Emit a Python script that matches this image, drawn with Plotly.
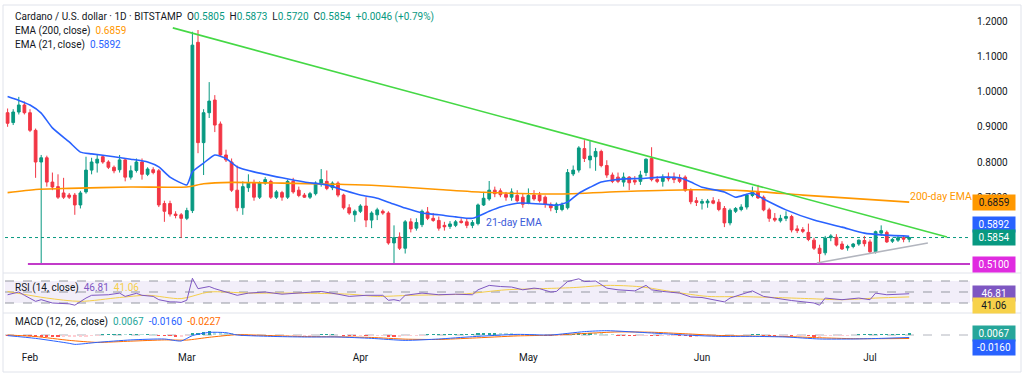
import pandas as pd
import plotly.graph_objects as go

# ---------------- DATA ----------------
start_date, end_date = "2025-01-28", "2025-07-08"

opens = [
    # Jan 28-31
    0.940, 0.912, 0.942, 0.962,
    # Feb
    0.940, 0.890, 0.800, 0.812, 0.743, 0.730, 0.712, 0.706, 0.706, 0.678,
    0.715, 0.777, 0.797, 0.815, 0.800, 0.785, 0.778, 0.806, 0.757, 0.776,
    0.800, 0.765, 0.778, 0.775, 0.682, 0.682, 0.652, 0.650,
    # Mar
    0.640, 0.662, 1.140, 0.855, 0.940, 0.976, 0.908, 0.820, 0.800, 0.720,
    0.670, 0.727, 0.740, 0.700, 0.740, 0.745, 0.700, 0.713, 0.700, 0.745,
    0.720, 0.706, 0.700, 0.710, 0.738, 0.745, 0.727, 0.740, 0.706, 0.670, 0.650,
    # Apr
    0.660, 0.675, 0.635, 0.650, 0.660, 0.655, 0.570, 0.587, 0.555, 0.630,
    0.612, 0.622, 0.658, 0.640, 0.634, 0.620, 0.617, 0.620, 0.632, 0.630,
    0.620, 0.625, 0.678, 0.695, 0.720, 0.718, 0.708, 0.700, 0.705, 0.700,
    # May
    0.683, 0.706, 0.706, 0.700, 0.678, 0.665, 0.665, 0.670, 0.766, 0.777,
    0.838, 0.806, 0.815, 0.830, 0.790, 0.763, 0.757, 0.743, 0.757, 0.748,
    0.745, 0.770, 0.810, 0.750, 0.745, 0.757, 0.757, 0.755, 0.757, 0.720, 0.690,
    # Jun
    0.683, 0.684, 0.690, 0.686, 0.668, 0.627, 0.660, 0.665, 0.672, 0.705,
    0.715, 0.700, 0.664, 0.640, 0.633, 0.640, 0.645, 0.610, 0.608, 0.600,
    0.578, 0.555, 0.542, 0.585, 0.586, 0.567, 0.556, 0.560, 0.567, 0.577,
    # Jul
    0.573, 0.545, 0.598, 0.600, 0.575, 0.578, 0.585, 0.5805,
]
highs = [
    0.952, 0.950, 0.985, 0.972,
    0.950, 0.895, 0.820, 0.818, 0.770, 0.765, 0.755, 0.712, 0.712, 0.718,
    0.815, 0.812, 0.820, 0.820, 0.805, 0.790, 0.820, 0.810, 0.790, 0.810,
    0.810, 0.785, 0.785, 0.780, 0.690, 0.690, 0.660, 0.655,
    0.670, 1.170, 1.175, 0.950, 1.027, 0.990, 0.915, 0.835, 0.810, 0.790,
    0.745, 0.765, 0.750, 0.745, 0.757, 0.750, 0.720, 0.718, 0.750, 0.755,
    0.730, 0.712, 0.715, 0.745, 0.780, 0.776, 0.745, 0.745, 0.710, 0.680, 0.665,
    0.680, 0.700, 0.660, 0.670, 0.665, 0.660, 0.620, 0.600, 0.635, 0.640,
    0.640, 0.665, 0.672, 0.655, 0.645, 0.630, 0.632, 0.635, 0.640, 0.640,
    0.635, 0.682, 0.715, 0.746, 0.730, 0.725, 0.715, 0.725, 0.720, 0.710,
    0.725, 0.720, 0.715, 0.705, 0.685, 0.685, 0.685, 0.780, 0.790, 0.845,
    0.862, 0.862, 0.840, 0.835, 0.805, 0.770, 0.770, 0.770, 0.760, 0.760,
    0.775, 0.810, 0.842, 0.760, 0.765, 0.770, 0.770, 0.765, 0.762, 0.725, 0.700,
    0.695, 0.695, 0.700, 0.695, 0.675, 0.668, 0.672, 0.680, 0.710, 0.730,
    0.735, 0.705, 0.670, 0.655, 0.650, 0.660, 0.650, 0.620, 0.615, 0.625,
    0.585, 0.565, 0.590, 0.595, 0.595, 0.575, 0.565, 0.570, 0.580, 0.590,
    0.580, 0.605, 0.620, 0.605, 0.585, 0.590, 0.590, 0.5873,
]
lows = [
    0.900, 0.905, 0.935, 0.935,
    0.885, 0.755, 0.513, 0.730, 0.720, 0.695, 0.695, 0.695, 0.650, 0.668,
    0.710, 0.765, 0.770, 0.795, 0.780, 0.768, 0.770, 0.745, 0.750, 0.770,
    0.750, 0.760, 0.765, 0.672, 0.630, 0.645, 0.640, 0.584,
    0.635, 0.655, 0.825, 0.763, 0.925, 0.885, 0.815, 0.800, 0.715, 0.660,
    0.650, 0.715, 0.690, 0.695, 0.735, 0.695, 0.695, 0.690, 0.695, 0.710,
    0.700, 0.698, 0.695, 0.705, 0.730, 0.720, 0.720, 0.700, 0.665, 0.650, 0.630,
    0.655, 0.615, 0.612, 0.635, 0.650, 0.565, 0.513, 0.550, 0.540, 0.600,
    0.605, 0.615, 0.635, 0.630, 0.605, 0.605, 0.610, 0.615, 0.625, 0.612,
    0.612, 0.620, 0.675, 0.690, 0.700, 0.700, 0.690, 0.690, 0.685, 0.670,
    0.680, 0.690, 0.685, 0.670, 0.660, 0.655, 0.660, 0.665, 0.760, 0.770,
    0.800, 0.782, 0.775, 0.785, 0.755, 0.740, 0.740, 0.730, 0.720, 0.735,
    0.735, 0.760, 0.745, 0.740, 0.730, 0.745, 0.740, 0.740, 0.715, 0.680, 0.675,
    0.665, 0.670, 0.680, 0.660, 0.615, 0.620, 0.655, 0.660, 0.665, 0.700,
    0.695, 0.660, 0.630, 0.630, 0.628, 0.632, 0.600, 0.598, 0.598, 0.575,
    0.550, 0.513, 0.535, 0.575, 0.560, 0.550, 0.548, 0.555, 0.562, 0.560,
    0.540, 0.540, 0.590, 0.570, 0.570, 0.573, 0.572, 0.5720,
]
closes = [
    0.910, 0.942, 0.962, 0.940,
    0.890, 0.800, 0.812, 0.743, 0.729, 0.700, 0.700, 0.700, 0.678, 0.712,
    0.777, 0.800, 0.808, 0.800, 0.785, 0.775, 0.806, 0.757, 0.775, 0.800,
    0.765, 0.780, 0.770, 0.678, 0.660, 0.652, 0.648, 0.640,
    0.662, 1.132, 0.855, 0.940, 0.973, 0.905, 0.820, 0.806, 0.720, 0.670,
    0.730, 0.740, 0.700, 0.740, 0.750, 0.700, 0.715, 0.700, 0.745, 0.715,
    0.705, 0.700, 0.710, 0.740, 0.750, 0.725, 0.740, 0.706, 0.670, 0.655, 0.660,
    0.675, 0.635, 0.655, 0.664, 0.655, 0.570, 0.585, 0.555, 0.630, 0.610,
    0.628, 0.660, 0.640, 0.634, 0.612, 0.616, 0.624, 0.630, 0.628, 0.620,
    0.628, 0.678, 0.697, 0.720, 0.710, 0.707, 0.700, 0.715, 0.690, 0.680,
    0.705, 0.695, 0.690, 0.680, 0.670, 0.680, 0.678, 0.770, 0.777, 0.840,
    0.810, 0.817, 0.830, 0.790, 0.763, 0.745, 0.745, 0.757, 0.741, 0.743,
    0.763, 0.808, 0.750, 0.745, 0.757, 0.752, 0.750, 0.745, 0.720, 0.687, 0.685,
    0.688, 0.689, 0.683, 0.665, 0.627, 0.663, 0.668, 0.672, 0.706, 0.715,
    0.698, 0.664, 0.640, 0.635, 0.640, 0.645, 0.607, 0.605, 0.603, 0.580,
    0.555, 0.540, 0.584, 0.590, 0.564, 0.553, 0.560, 0.567, 0.578, 0.568,
    0.545, 0.602, 0.605, 0.573, 0.580, 0.585, 0.5808, 0.5854,
]

ema21_dates = ["2025-01-28", "2025-01-30", "2025-02-01", "2025-02-03", "2025-02-05", "2025-02-08",
               "2025-02-10", "2025-02-12", "2025-02-16", "2025-02-19", "2025-02-22", "2025-02-24",
               "2025-02-26", "2025-03-01", "2025-03-02", "2025-03-04", "2025-03-06", "2025-03-08",
               "2025-03-10", "2025-03-13", "2025-03-18", "2025-03-22", "2025-03-26", "2025-03-29",
               "2025-04-01", "2025-04-04", "2025-04-06", "2025-04-09", "2025-04-12", "2025-04-15",
               "2025-04-18", "2025-04-21", "2025-04-24", "2025-04-26", "2025-04-29", "2025-05-01",
               "2025-05-04", "2025-05-06", "2025-05-08", "2025-05-10", "2025-05-12", "2025-05-14",
               "2025-05-18", "2025-05-21", "2025-05-25", "2025-05-28", "2025-05-30", "2025-06-01",
               "2025-06-05", "2025-06-07", "2025-06-10", "2025-06-12", "2025-06-16", "2025-06-21",
               "2025-06-26", "2025-06-30", "2025-07-03", "2025-07-08"]
ema21_vals = [0.986, 0.975, 0.962, 0.939, 0.897, 0.857,
              0.828, 0.823, 0.815, 0.808, 0.800, 0.786,
              0.757, 0.735, 0.772, 0.797, 0.820, 0.810,
              0.786, 0.772, 0.755, 0.743, 0.735, 0.720,
              0.706, 0.697, 0.686, 0.669, 0.655, 0.650,
              0.644, 0.640, 0.660, 0.672, 0.683, 0.683,
              0.680, 0.677, 0.686, 0.711, 0.728, 0.743,
              0.752, 0.753, 0.757, 0.755, 0.743, 0.728,
              0.715, 0.700, 0.712, 0.695, 0.664, 0.635,
              0.615, 0.598, 0.593, 0.5892]

ema200_dates = ["2025-01-28", "2025-02-02", "2025-02-08", "2025-02-19", "2025-03-01", "2025-03-04",
                "2025-03-09", "2025-03-18", "2025-03-27", "2025-04-03", "2025-04-15", "2025-04-23",
                "2025-05-06", "2025-05-18", "2025-05-30", "2025-06-09", "2025-06-19", "2025-07-08"]
ema200_vals = [0.713, 0.722, 0.725, 0.729, 0.729, 0.738,
               0.742, 0.740, 0.737, 0.734, 0.722, 0.714,
               0.709, 0.716, 0.721, 0.718, 0.706, 0.6859]

rsi_dates = ["2025-01-28", "2025-01-30", "2025-01-31",
             "2025-02-02", "2025-02-03", "2025-02-05", "2025-02-08", "2025-02-09", "2025-02-11",
             "2025-02-12", "2025-02-15", "2025-02-17", "2025-02-18", "2025-02-20", "2025-02-21",
             "2025-02-23", "2025-02-24", "2025-02-26", "2025-02-27", "2025-02-28",
             "2025-03-01", "2025-03-02", "2025-03-03", "2025-03-04", "2025-03-05", "2025-03-06",
             "2025-03-08", "2025-03-10", "2025-03-12", "2025-03-15", "2025-03-18", "2025-03-21",
             "2025-03-25", "2025-03-28", "2025-03-30",
             "2025-04-02", "2025-04-05", "2025-04-06", "2025-04-07", "2025-04-08", "2025-04-09",
             "2025-04-12", "2025-04-15", "2025-04-18", "2025-04-21", "2025-04-22", "2025-04-24",
             "2025-04-26", "2025-04-28", "2025-04-30",
             "2025-05-02", "2025-05-03", "2025-05-05", "2025-05-06", "2025-05-08", "2025-05-10",
             "2025-05-11", "2025-05-13", "2025-05-15", "2025-05-17", "2025-05-20", "2025-05-22",
             "2025-05-23", "2025-05-25", "2025-05-28", "2025-05-30",
             "2025-06-01", "2025-06-05", "2025-06-06", "2025-06-10", "2025-06-12", "2025-06-14",
             "2025-06-17", "2025-06-21", "2025-06-22", "2025-06-23", "2025-06-26", "2025-06-29",
             "2025-07-01", "2025-07-02", "2025-07-04", "2025-07-08"]
rsi_vals = [45, 50, 44,
            33, 36, 30, 28.5, 26, 39, 44, 45, 48, 42, 47.6, 44, 42, 36, 32, 32, 31,
            35, 75, 56, 58, 60, 56, 50, 44, 48, 50, 46, 48, 51, 46, 42,
            44, 44, 35, 36, 34, 44, 48, 45, 46, 45, 54, 62, 60, 59, 54,
            57, 56, 50, 51, 69, 74, 69, 70, 57, 54, 52, 62, 54, 51, 48, 41,
            40, 32, 39, 52, 42, 39, 34.5, 30, 26, 39, 36, 39,
            36, 48, 45, 46.81]

rsima_dates = ["2025-01-28", "2025-02-04", "2025-02-10", "2025-02-17", "2025-02-22", "2025-02-28",
               "2025-03-05", "2025-03-12", "2025-03-21", "2025-03-30", "2025-04-04", "2025-04-10",
               "2025-04-19", "2025-04-27", "2025-05-03", "2025-05-09", "2025-05-15", "2025-05-21",
               "2025-05-27", "2025-06-02", "2025-06-08", "2025-06-14", "2025-06-20", "2025-06-26",
               "2025-07-02", "2025-07-08"]
rsima_vals = [51, 39, 33, 40, 44, 38,
              50, 48, 48, 46, 42, 44,
              46, 54, 56, 58, 62, 59.5,
              50, 42, 41.6, 40, 38, 36,
              39, 41.06]

macd_dates = ["2025-01-28", "2025-02-02", "2025-02-08", "2025-02-09", "2025-02-13", "2025-02-19",
              "2025-02-25", "2025-02-28", "2025-03-02", "2025-03-05", "2025-03-08", "2025-03-10",
              "2025-03-16", "2025-03-22", "2025-03-28", "2025-04-03", "2025-04-09", "2025-04-15",
              "2025-04-21", "2025-04-29", "2025-05-05", "2025-05-11", "2025-05-15", "2025-05-23",
              "2025-05-29", "2025-06-04", "2025-06-10", "2025-06-16", "2025-06-22", "2025-06-28",
              "2025-07-03", "2025-07-08"]
macd_vals = [-0.004, -0.022, -0.054, -0.061, -0.048, -0.032,
             -0.026, -0.039, -0.004, 0.017, 0.015, 0.000,
             -0.009, -0.013, -0.013, -0.022, -0.035, -0.026,
             -0.011, 0.004, 0.000, 0.022, 0.028, 0.013,
             0.000, -0.009, -0.009, -0.013, -0.026, -0.026,
             -0.022, -0.0160]

signal_dates = ["2025-01-28", "2025-02-02", "2025-02-08", "2025-02-13", "2025-02-19", "2025-02-25",
                "2025-03-01", "2025-03-05", "2025-03-10", "2025-03-16", "2025-03-22", "2025-03-28",
                "2025-04-03", "2025-04-09", "2025-04-15", "2025-04-21", "2025-04-29", "2025-05-05",
                "2025-05-11", "2025-05-17", "2025-05-23", "2025-05-29", "2025-06-04", "2025-06-10",
                "2025-06-16", "2025-06-22", "2025-06-28", "2025-07-03", "2025-07-08"]
signal_vals = [0.000, -0.010, -0.035, -0.048, -0.040, -0.032,
               -0.033, -0.015, 0.002, -0.004, -0.010, -0.012,
               -0.016, -0.027, -0.029, -0.020, -0.006, -0.001,
               0.010, 0.020, 0.018, 0.008, -0.003, -0.007,
               -0.010, -0.018, -0.024, -0.024, -0.0227]

# MACD histogram, daily, in thousandths
hist_milli = [
    -2, -2, -1, -2,
    -4, -8, -10, -13, -15, -16, -16, -15, -14, -11,
    -7, -4, -1, 1, 2, 3, 4, 3, 3, 4,
    3, 3, 2, -1, -4, -6, -7, -7,
    -5, 12, 16, 22, 24, 22, 18, 14, 8, 2,
    -1, -3, -4, -4, -4, -5, -4, -4, -3, -2,
    -2, -2, -1, 0, 1, 1, 1, 0, -2, -3, -4,
    -4, -5, -5, -5, -5, -7, -8, -8, -6, -5,
    -3, -1, 1, 1, 2, 2, 3, 3, 3, 4,
    5, 7, 9, 10, 10, 9, 8, 7, 5, 3,
    2, 1, 0, -1, -2, -2, -1, 3, 6, 9,
    10, 10, 9, 7, 4, 1, -1, -2, -3, -4,
    -4, -2, -3, -4, -4, -4, -4, -5, -6, -7, -7,
    -6, -5, -4, -4, -5, -4, -3, -2, 0, 1,
    1, -1, -3, -4, -4, -4, -5, -5, -5, -6,
    -7, -7, -5, -3, -3, -2, -1, 0, 1, 1,
    1, 3, 5, 5, 6, 6, 6, 6.7,
]

# Drawn trendlines / levels (price chart drawings)
resistance_dates = ["2025-02-26 12:00", "2025-07-14 18:00"]
resistance_prices = [1.181, 0.587]
support_dates = ["2025-06-21 12:00", "2025-07-11 08:00"]
support_prices = [0.513, 0.570]
support_level = 0.5100
support_level_start = "2025-01-31 15:00"

price_ticks = [0.7, 0.8, 0.9, 1.0, 1.1, 1.2]
month_ticks = ["2025-02-01", "2025-03-01", "2025-04-01", "2025-05-01", "2025-06-01", "2025-07-01"]
month_labels = ["Feb", "Mar", "Apr", "May", "Jun", "Jul"]

# ---------------- STYLE / LAYOUT ----------------
FONT = "Roboto, Arial, sans-serif"
TXT = "#131722"
UP, DN = "#089981", "#F23645"
C_EMA21, C_EMA200 = "#2962FF", "#FF9800"

FIG_W, FIG_H = 1024, 375
ML, MR, MT, MB = 5, 54, 5, 25
PW = FIG_W - ML - MR
PH = FIG_H - MT - MB


def pxx(px):
    return (px - ML) / PW


def pxy(py):
    return (FIG_H - MB - py) / PH


PX_PER_DAY = 5.6
t0 = pd.Timestamp("2025-02-01") - pd.Timedelta(days=(30 - ML) / PX_PER_DAY)
t1 = t0 + pd.Timedelta(days=PW / PX_PER_DAY)

# main pane: 0.8 at y=162 px, 352 px per 1.0
main_range = [0.8 - (272 - 162) / 352, 0.8 + (162 - MT) / 352]
rsi_range = [30 - (312 - 303) / 0.55, 70 + (281 - 274) / 0.55]
macd_range = [-(350 - 335) * 0.0065, (335 - 314) * 0.0065]

dates = pd.date_range(start_date, end_date, freq="D")
hist = [v / 1000 for v in hist_milli]
hist_colors = []
for i, v in enumerate(hist):
    prev = hist[i - 1] if i > 0 else 0
    if v >= 0:
        hist_colors.append("#26A69A" if v >= prev else "#B2DFDB")
    else:
        hist_colors.append("#FF5252" if v < prev else "#FFCDD2")

fig = go.Figure()

# support level (magenta)
fig.add_trace(go.Scatter(x=[pd.Timestamp(support_level_start), t1], y=[support_level, support_level],
                         mode="lines", line=dict(color="#C23BC9", width=2), hoverinfo="skip"))
# EMA200 / EMA21
fig.add_trace(go.Scatter(x=pd.to_datetime(ema200_dates), y=ema200_vals, mode="lines",
                         line=dict(color=C_EMA200, width=1.6, shape="spline", smoothing=0.6), hoverinfo="skip"))
fig.add_trace(go.Scatter(x=pd.to_datetime(ema21_dates), y=ema21_vals, mode="lines",
                         line=dict(color=C_EMA21, width=1.6, shape="spline", smoothing=0.5), hoverinfo="skip"))
# candles
fig.add_trace(go.Candlestick(x=dates, open=opens, high=highs, low=lows, close=closes,
                             increasing=dict(line=dict(color=UP, width=1), fillcolor=UP),
                             decreasing=dict(line=dict(color=DN, width=1), fillcolor=DN),
                             whiskerwidth=0, hoverinfo="skip", showlegend=False))
# trendlines
fig.add_trace(go.Scatter(x=pd.to_datetime(resistance_dates), y=resistance_prices, mode="lines",
                         line=dict(color="#45D845", width=1.6), hoverinfo="skip"))
fig.add_trace(go.Scatter(x=pd.to_datetime(support_dates), y=support_prices, mode="lines",
                         line=dict(color="#B2B5BE", width=1.6), hoverinfo="skip"))

# RSI pane
fig.add_trace(go.Scatter(x=pd.to_datetime(rsima_dates), y=rsima_vals, mode="lines", yaxis="y2",
                         line=dict(color="#F5CE4A", width=1, shape="spline", smoothing=0.8), hoverinfo="skip"))
fig.add_trace(go.Scatter(x=pd.to_datetime(rsi_dates), y=rsi_vals, mode="lines", yaxis="y2",
                         line=dict(color="#7E57C2", width=1), hoverinfo="skip"))

# MACD pane
fig.add_trace(go.Bar(x=dates, y=hist, marker=dict(color=hist_colors, line=dict(width=0)),
                     width=0.6 * 86400000, yaxis="y3", hoverinfo="skip"))
fig.add_trace(go.Scatter(x=pd.to_datetime(signal_dates), y=signal_vals, mode="lines", yaxis="y3",
                         line=dict(color="#FF6D00", width=1, shape="spline", smoothing=0.6), hoverinfo="skip"))
fig.add_trace(go.Scatter(x=pd.to_datetime(macd_dates), y=macd_vals, mode="lines", yaxis="y3",
                         line=dict(color="#2962FF", width=1, shape="spline", smoothing=0.6), hoverinfo="skip"))

shapes = []
# current price dotted line
shapes.append(dict(type="line", xref="paper", x0=0, x1=1, yref="y", y0=closes[-1], y1=closes[-1],
                   line=dict(color=UP, width=1, dash="dot"), layer="below"))
# RSI band + dashed levels
shapes.append(dict(type="rect", xref="paper", x0=0, x1=1, yref="y2", y0=30, y1=70,
                   fillcolor="rgba(126,87,194,0.10)", line=dict(width=0), layer="below"))
for lvl in (70, 50, 30):
    shapes.append(dict(type="line", xref="paper", x0=0, x1=1, yref="y2", y0=lvl, y1=lvl,
                       line=dict(color="#9598A1", width=1, dash="dash"), layer="below"))
shapes.append(dict(type="line", xref="paper", x0=0, x1=1, yref="y3", y0=0, y1=0,
                   line=dict(color="#B2B5BE", width=1, dash="dash"), layer="below"))
# pane separators and frame
for py in (273, 313):
    shapes.append(dict(type="line", xref="paper", yref="paper", x0=pxx(3), x1=pxx(1021),
                       y0=pxy(py), y1=pxy(py), line=dict(color="#E0E3EB", width=1)))
shapes.append(dict(type="rect", xref="paper", yref="paper", x0=pxx(3), x1=pxx(1021),
                   y0=pxy(372), y1=pxy(5), line=dict(color="#E0E3EB", width=1)))

annotations = []


def legend_text(px, py, text):
    annotations.append(dict(xref="paper", yref="paper", x=pxx(px), y=pxy(py), xanchor="left",
                            yanchor="middle", text=text, showarrow=False,
                            font=dict(family=FONT, size=10, color=TXT)))


def col(v, c):
    return f"<span style='color:{c}'>{v}</span>"


NB = "\u00a0"
chg = closes[-1] - closes[-2]
pct = chg / closes[-2] * 100
title = ("Cardano / U.S. dollar · 1D · BITSTAMP" + NB * 2 +
         "O" + col(f"{opens[-1]:.4f}", UP) + NB * 2 +
         "H" + col(f"{highs[-1]:.4f}", UP) + NB * 2 +
         "L" + col(f"{lows[-1]:.4f}", UP) + NB * 2 +
         "C" + col(f"{closes[-1]:.4f}", UP) + NB * 2 +
         col(f"{chg:+.4f} ({pct:+.2f}%)", UP))
legend_text(13, 17, title)
legend_text(13, 31, "EMA (200, close)" + NB * 2 + col(f"{ema200_vals[-1]:.4f}", C_EMA200))
legend_text(13, 45, "EMA (21, close)" + NB * 2 + col(f"{ema21_vals[-1]:.4f}", C_EMA21))
legend_text(13, 288, "RSI (14, close)" + NB * 2 + col(f"{rsi_vals[-1]:.2f}", "#7E57C2") + NB * 2 +
            col(f"{rsima_vals[-1]:.2f}", "#F5CE4A"))
legend_text(13, 322, "MACD (12, 26, close)" + NB * 2 + col(f"{hist[-1]:.4f}", "#26A69A") + NB * 2 +
            col(f"{macd_vals[-1]:.4f}", "#2962FF") + NB * 2 + col(f"{signal_vals[-1]:.4f}", "#FF6D00"))

# on-chart text labels
annotations.append(dict(xref="x", yref="y", x=pd.Timestamp("2025-04-23 03:00"), y=0.6295,
                        xanchor="left", yanchor="middle", text="21-day EMA", showarrow=False,
                        font=dict(family=FONT, size=10.5, color="#3D5BD9")))
annotations.append(dict(xref="x", yref="y", x=pd.Timestamp("2025-07-07 19:00"), y=0.7006,
                        xanchor="left", yanchor="middle", text="200-day EMA", showarrow=False,
                        font=dict(family=FONT, size=10.5, color=C_EMA200)))


def axis_box(yref, y, text, bg, fg, yshift=0):
    annotations.append(dict(xref="paper", x=1, xanchor="left", xshift=2, yref=yref, y=y,
                            yanchor="middle", yshift=yshift, text=text, showarrow=False,
                            bgcolor=bg, borderpad=2, width=38, align="center",
                            font=dict(family=FONT, size=10, color=fg)))


axis_box("y", ema200_vals[-1], f"{ema200_vals[-1]:.4f}", "#FF9800", TXT)
axis_box("y", ema21_vals[-1], f"{ema21_vals[-1]:.4f}", "#2962FF", "white", yshift=12)
axis_box("y", closes[-1], f"{closes[-1]:.4f}", UP, "white")
axis_box("y", support_level, f"{support_level:.4f}", "#E02BE0", "white")
axis_box("y2", rsi_vals[-1], f"{rsi_vals[-1]:.2f}", "#7E57C2", "white")
axis_box("y2", rsima_vals[-1], f"{rsima_vals[-1]:.2f}", "#F7D24A", TXT, yshift=-9)
axis_box("y3", hist[-1], f"{hist[-1]:.4f}", "#26A69A", "white")
axis_box("y3", macd_vals[-1], f"{macd_vals[-1]:.4f}", "#2962FF", "white", yshift=-10)

fig.update_layout(
    width=FIG_W, height=FIG_H, autosize=False,
    margin=dict(l=ML, r=MR, t=MT, b=MB, autoexpand=False),
    paper_bgcolor="white", plot_bgcolor="white", showlegend=False,
    font=dict(family=FONT, size=10, color=TXT),
    xaxis=dict(type="date", range=[t0, t1], anchor="free", position=0, showgrid=False,
               zeroline=False, showline=False, ticks="", tickvals=month_ticks, ticktext=month_labels,
               tickfont=dict(family=FONT, size=10, color=TXT), rangeslider=dict(visible=False)),
    yaxis=dict(domain=[pxy(272), pxy(MT)], range=main_range, side="right", showgrid=False,
               zeroline=False, showline=False, ticks="", tickvals=price_ticks,
               ticktext=[f"{v:.4f}" for v in price_ticks], ticklabelstandoff=6,
               tickfont=dict(family=FONT, size=10, color=TXT)),
    yaxis2=dict(domain=[pxy(312), pxy(274)], range=rsi_range, anchor="x", showgrid=False,
                zeroline=False, showticklabels=False, ticks=""),
    yaxis3=dict(domain=[0, pxy(314)], range=macd_range, anchor="x", showgrid=False,
                zeroline=False, showticklabels=False, ticks=""),
    shapes=shapes, annotations=annotations, bargap=0,
)

fig.write_html("out.html", config={"displayModeBar": False},
               post_script="document.body.style.margin='0';document.body.style.overflow='hidden';")
